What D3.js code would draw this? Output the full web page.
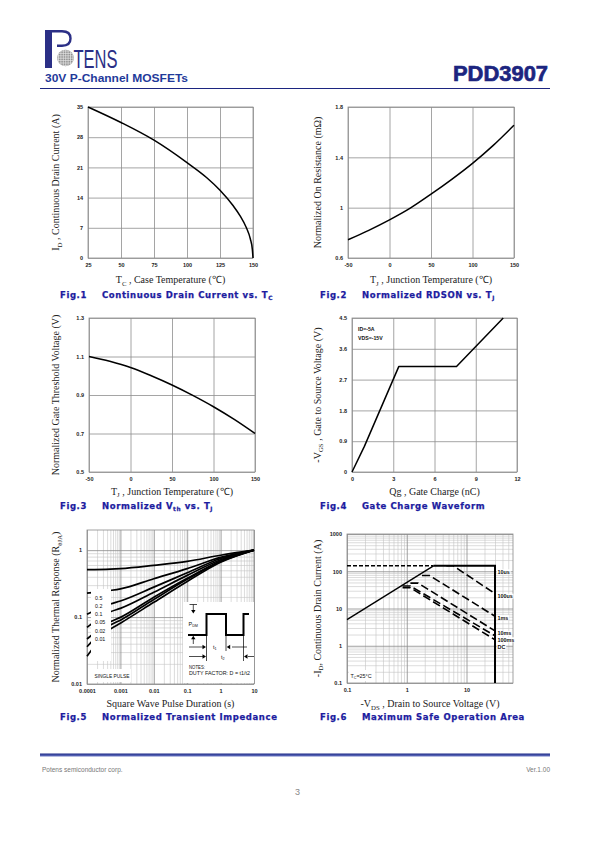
<!DOCTYPE html>
<html><head><meta charset="utf-8">
<script src="https://cdn.jsdelivr.net/npm/d3@7"></script>
<style>body{margin:0;background:#fff}svg{display:block}</style>
</head><body>
<svg id="page" width="595" height="842"></svg>
<script>
// ---------------- DATA ----------------
const fig1Temp    = [25, 50, 75, 100, 115, 125, 135, 140, 145, 148, 149.5, 150];
const fig1Current = [35, 31.4, 27.3, 22.1, 18.6, 15.7, 12.1, 9.9, 7.0, 4.4, 2.0, 0];
const fig1XTicks  = [25, 50, 75, 100, 125, 150];
const fig1YTicks  = [0, 7, 14, 21, 28, 35];

const fig2Temp   = [-50, -25, 0, 25, 50, 75, 100, 125, 150];
const fig2Rds    = [0.745, 0.82, 0.903, 0.996, 1.107, 1.225, 1.352, 1.495, 1.655];
const fig2XTicks = [-50, 0, 50, 100, 150];
const fig2YTicks = [0.6, 1, 1.4, 1.8];

const fig3Temp   = [-50, -25, 0, 25, 50, 75, 100, 125, 150];
const fig3Vth    = [1.1, 1.075, 1.043, 1.0, 0.952, 0.898, 0.839, 0.773, 0.70];
const fig3XTicks = [-50, 0, 50, 100, 150];
const fig3YTicks = [0.5, 0.7, 0.9, 1.1, 1.3];

const fig4Qg     = [0, 0.9, 3.4, 7.6, 11.0];
const fig4Vgs    = [0, 0.75, 3.08, 3.08, 4.5];
const fig4XTicks = [0, 3, 6, 9, 12];
const fig4YTicks = [0, 0.9, 1.8, 2.7, 3.6, 4.5];
const fig4Notes  = ["ID=-5A", "VDS=-15V"];

const fig5Time   = [0.0001, 0.0005, 0.001, 0.01, 0.1, 1, 10];
const fig5Duty   = ["0.5", "0.2", "0.1", "0.05", "0.02", "0.01"];
const fig5D05    = [0.51, 0.52, 0.53, 0.594, 0.68, 0.84, 1];
const fig5D02    = [0.228, 0.25, 0.264, 0.374, 0.53, 0.78, 1];
const fig5D01    = [0.11, 0.157, 0.174, 0.28, 0.46, 0.75, 1];
const fig5D005   = [0.07, 0.12, 0.135, 0.235, 0.42, 0.72, 1];
const fig5D002   = [0.047, 0.085, 0.099, 0.198, 0.38, 0.69, 1];
const fig5D001   = [0.036, 0.076, 0.09, 0.183, 0.366, 0.675, 1];
const fig5Single = [0.026, 0.066, 0.081, 0.166, 0.34, 0.66, 1];
const fig5XTicks = [0.0001, 0.001, 0.01, 0.1, 1, 10];
const fig5XLabels = ["0.0001", "0.001", "0.01", "0.1", "1", "10"];
const fig5YTicks = [0.01, 0.1, 1];
const fig5YLabels = ["0.01", "0.1", "1"];

const fig6RdsV    = [0.1, 2.8];
const fig6RdsI    = [5, 140];
const fig6LimitV  = [2.8, 30, 30];
const fig6LimitI  = [140, 140, 0.1];
const fig6_10usV  = [0.1, 2.8];
const fig6_10usI  = [140, 140];
const fig6_100usV = [4.6, 6.0, 30];
const fig6_100usI = [140, 140, 25];
const fig6_1msV   = [1.8, 2.4, 30];
const fig6_1msI   = [77, 77, 6.2];
const fig6_10msV  = [1.15, 1.55, 30];
const fig6_10msI  = [48, 48, 2.5];
const fig6_100msV = [0.85, 1.15, 30];
const fig6_100msI = [40, 40, 1.85];
const fig6_dcV    = [0.85, 1.15, 30];
const fig6_dcI    = [36, 36, 1.45];
const fig6Labels  = ["10us", "100us", "1ms", "10ms", "100ms", "DC"];
const fig6XTicks  = [0.1, 1, 10];
const fig6XLabels = ["0.1", "1", "10"];
const fig6YTicks  = [0.1, 1, 10, 100, 1000];
const fig6YLabels = ["0.1", "1", "10", "100", "1000"];

// ---------------- HELPERS ----------------
const svg = d3.select("#page");
const SANS = "Liberation Sans, Arial, sans-serif";
const SERIF = "Liberation Serif, Times New Roman, serif";
const FIG_BLUE = "#1c1ca0";
const GRID = "#8e8e8e";

function rich(textSel, parts, size) {
  let shifted = 0;
  parts.forEach(([s, kind]) => {
    const ts = textSel.append("tspan").text(s);
    if (kind === "sub") {
      ts.attr("font-size", size * 0.68).attr("dy", size * 0.25 - shifted);
      shifted = size * 0.25;
    } else if (shifted) {
      ts.attr("dy", -shifted);
      shifted = 0;
    }
  });
  return textSel;
}
function xTitle(p, y, parts) {
  const t = svg.append("text").attr("x", (p.left + p.right) / 2).attr("y", y)
    .attr("text-anchor", "middle").attr("font-family", SERIF).attr("font-size", 10).attr("fill", "#222");
  rich(t, parts, 10);
}
function yTitle(x, p, parts) {
  const t = svg.append("text").attr("transform", `translate(${x},${(p.top + p.bottom) / 2}) rotate(-90)`)
    .attr("text-anchor", "middle").attr("font-family", SERIF).attr("font-size", 10).attr("fill", "#222");
  rich(t, parts, 10);
}
function figTitle(x, y, num, parts) {
  const common = s => s.attr("font-family", "DejaVu Sans, Verdana, sans-serif").attr("font-weight", "bold")
    .attr("font-size", 8.5).attr("fill", FIG_BLUE).attr("stroke", FIG_BLUE).attr("stroke-width", 0.25)
    .attr("letter-spacing", 0.6);
  svg.append("text").attr("x", x).attr("y", y).call(common).text("Fig." + num);
  const t = svg.append("text").attr("x", x + 42).attr("y", y).call(common);
  rich(t, parts, 8.5);
}
function styleTicks(g, color, width) {
  g.select(".domain").remove();
  g.selectAll("line").attr("stroke", color).attr("stroke-width", width);
  g.selectAll("text").attr("font-family", SANS).attr("font-size", 5.5).attr("font-weight", "bold").attr("fill", "#222");
}
function frame(p, color) {
  svg.append("rect").attr("x", p.left).attr("y", p.top).attr("width", p.right - p.left)
    .attr("height", p.bottom - p.top).attr("fill", "none").attr("stroke", color || GRID).attr("stroke-width", 0.8);
}
function linearPlot(p, xDom, yDom, xTicks, yTicks, xs, ys, curve) {
  const x = d3.scaleLinear().domain(xDom).range([p.left, p.right]);
  const y = d3.scaleLinear().domain(yDom).range([p.bottom, p.top]);
  svg.append("g").attr("transform", `translate(0,${p.bottom})`)
    .call(d3.axisBottom(x).tickValues(xTicks).tickSize(-(p.bottom - p.top)).tickPadding(5).tickFormat(d => String(d)))
    .call(g => styleTicks(g, GRID, 0.8));
  svg.append("g").attr("transform", `translate(${p.left},0)`)
    .call(d3.axisLeft(y).tickValues(yTicks).tickSize(-(p.right - p.left)).tickPadding(5).tickFormat(d => String(d)))
    .call(g => styleTicks(g, GRID, 0.8));
  frame(p);
  svg.append("path").datum(xs.map((v, i) => [v, ys[i]]))
    .attr("fill", "none").attr("stroke", "#000").attr("stroke-width", 1.5).attr("stroke-linejoin", "round")
    .attr("d", d3.line().x(d => x(d[0])).y(d => y(d[1])).curve(curve || d3.curveMonotoneX));
  return { x, y };
}
function minorsOf(dom) {
  const out = [];
  const lo = Math.floor(Math.log10(dom[0])), hi = Math.ceil(Math.log10(dom[1]));
  for (let e = lo; e < hi; e++) for (let k = 2; k <= 9; k++) {
    const v = k * Math.pow(10, e);
    if (v > dom[0] * 1.0001 && v < dom[1] * 0.9999) out.push(v);
  }
  return out;
}
function logPlot(p, xDom, yDom, xTicks, xLabels, yTicks, yLabels) {
  const x = d3.scaleLog().domain(xDom).range([p.left, p.right]);
  const y = d3.scaleLog().domain(yDom).range([p.bottom, p.top]);
  svg.append("g").attr("transform", `translate(0,${p.bottom})`)
    .call(d3.axisBottom(x).tickValues(minorsOf(xDom)).tickSize(-(p.bottom - p.top)).tickFormat(""))
    .call(g => styleTicks(g, "#c4c4c4", 0.6));
  svg.append("g").attr("transform", `translate(${p.left},0)`)
    .call(d3.axisLeft(y).tickValues(minorsOf(yDom)).tickSize(-(p.right - p.left)).tickFormat(""))
    .call(g => styleTicks(g, "#c4c4c4", 0.6));
  svg.append("g").attr("transform", `translate(0,${p.bottom})`)
    .call(d3.axisBottom(x).tickValues(xTicks).tickSize(-(p.bottom - p.top)).tickPadding(5)
      .tickFormat((d, i) => xLabels[i]))
    .call(g => styleTicks(g, "#8a8a8a", 0.8));
  svg.append("g").attr("transform", `translate(${p.left},0)`)
    .call(d3.axisLeft(y).tickValues(yTicks).tickSize(-(p.right - p.left)).tickPadding(5)
      .tickFormat((d, i) => yLabels[i]))
    .call(g => styleTicks(g, "#8a8a8a", 0.8));
  frame(p, "#8a8a8a");
  return { x, y };
}

// ---------------- HEADER ----------------
const NAVY = "#2b2f86";
svg.append("rect").attr("x", 45).attr("y", 30).attr("width", 7).attr("height", 38).attr("fill", NAVY);
svg.append("path").attr("d", "M52,31.3 H62 Q70.5,31.3 70.5,38.5 Q70.5,45.7 62,45.7 H57")
  .attr("fill", "none").attr("stroke", NAVY).attr("stroke-width", 2.4);
const globe = svg.append("g");
globe.append("clipPath").attr("id", "gclip").append("circle").attr("cx", 65.5).attr("cy", 58).attr("r", 8.3);
globe.append("circle").attr("cx", 65.5).attr("cy", 58).attr("r", 8.3).attr("fill", "#8f8f8f");
const gl = globe.append("g").attr("clip-path", "url(#gclip)").attr("stroke", "#e8e8e8").attr("stroke-width", 0.7);
d3.range(-7, 8, 2.4).forEach(o => {
  gl.append("line").attr("x1", 65.5 + o).attr("x2", 65.5 + o).attr("y1", 48).attr("y2", 68);
  gl.append("line").attr("y1", 58 + o).attr("y2", 58 + o).attr("x1", 56).attr("x2", 76);
});
svg.append("text").attr("x", 73.5).attr("y", 67.5).attr("font-family", "Liberation Sans Narrow, Liberation Sans, sans-serif")
  .attr("font-size", 25).attr("fill", NAVY).attr("textLength", 44).attr("lengthAdjust", "spacingAndGlyphs").text("TENS");
svg.append("text").attr("x", 45).attr("y", 82).attr("font-family", SANS).attr("font-weight", "bold")
  .attr("font-size", 10.5).attr("fill", "#1f3a9a").attr("textLength", 143).attr("lengthAdjust", "spacingAndGlyphs")
  .text("30V P-Channel MOSFETs");
svg.append("text").attr("x", 453).attr("y", 81).attr("font-family", SANS).attr("font-weight", "bold")
  .attr("font-size", 22).attr("fill", "#1c2580").attr("stroke", "#1c2580").attr("stroke-width", 0.7)
  .attr("textLength", 95).attr("lengthAdjust", "spacingAndGlyphs").text("PDD3907");
svg.append("line").attr("x1", 40).attr("x2", 550).attr("y1", 88.5).attr("y2", 88.5).attr("stroke", "#1c2580").attr("stroke-width", 1.1);

// ---------------- FIG 1 ----------------
const P1 = { left: 88, right: 253, top: 107, bottom: 258 };
linearPlot(P1, [25, 150], [0, 35], fig1XTicks, fig1YTicks, fig1Temp, fig1Current);
xTitle(P1, 283, [["T", ""], ["C", "sub"], [" , Case Temperature (\u2103)", ""]]);
yTitle(59, P1, [["I", ""], ["D", "sub"], [" , Continuous Drain Current (A)", ""]]);
figTitle(60, 297.5, 1, [["Continuous Drain Current vs. T", ""], ["C", "sub"]]);

// ---------------- FIG 2 ----------------
const P2 = { left: 348, right: 514, top: 107, bottom: 258 };
linearPlot(P2, [-50, 150], [0.6, 1.8], fig2XTicks, fig2YTicks, fig2Temp, fig2Rds);
xTitle(P2, 283, [["T", ""], ["J", "sub"], [" , Junction Temperature (\u2103)", ""]]);
yTitle(320.5, P2, [["Normalized On Resistance (m\u03A9)", ""]]);
figTitle(320, 297.5, 2, [["Normalized RDSON vs. T", ""], ["J", "sub"]]);

// ---------------- FIG 3 ----------------
const P3 = { left: 89, right: 255, top: 318, bottom: 472 };
linearPlot(P3, [-50, 150], [0.5, 1.3], fig3XTicks, fig3YTicks, fig3Temp, fig3Vth);
xTitle(P3, 494.5, [["T", ""], ["J", "sub"], [" , Junction Temperature (\u2103)", ""]]);
yTitle(59, P3, [["Normalized Gate Threshold Voltage (V)", ""]]);
figTitle(60, 509, 3, [["Normalized V", ""], ["th", "sub"], [" vs. T", ""], ["J", "sub"]]);

// ---------------- FIG 4 ----------------
const P4 = { left: 352, right: 517, top: 318, bottom: 472 };
linearPlot(P4, [0, 12], [0, 4.5], fig4XTicks, fig4YTicks, fig4Qg, fig4Vgs, d3.curveLinear);
fig4Notes.forEach((s, i) => svg.append("text").attr("x", 358).attr("y", 331 + i * 8.5)
  .attr("font-family", SANS).attr("font-weight", "bold").attr("font-size", 5.2).attr("fill", "#111").text(s));
xTitle(P4, 495, [["Qg , Gate Charge (nC)", ""]]);
yTitle(320.5, P4, [["-V", ""], ["GS", "sub"], [" , Gate to Source Voltage (V)", ""]]);
figTitle(320, 509, 4, [["Gate Charge Waveform", ""]]);

// ---------------- FIG 5 ----------------
const P5 = { left: 87, right: 254, top: 530, bottom: 684 };
const s5 = logPlot(P5, [0.0001, 10], [0.01, 2], fig5XTicks, fig5XLabels, fig5YTicks, fig5YLabels);
const fig5Series = [fig5D05, fig5D02, fig5D01, fig5D005, fig5D002, fig5D001, fig5Single];
const line5 = d3.line().x(d => s5.x(d[0])).y(d => s5.y(d[1])).curve(d3.curveMonotoneX);
fig5Series.forEach(ser => svg.append("path").datum(fig5Time.map((t, i) => [t, ser[i]]))
  .attr("fill", "none").attr("stroke", "#000").attr("stroke-width", 1.7).attr("d", line5));
// duty-factor label box
svg.append("rect").attr("x", 91).attr("y", 589).attr("width", 20).attr("height", 72).attr("fill", "#fff");
fig5Duty.forEach((s, i) => svg.append("text").attr("x", 95).attr("y", 600 + i * 8.15)
  .attr("font-family", SANS).attr("font-size", 5.3).attr("fill", "#111").text(s));
svg.append("rect").attr("x", 89).attr("y", 669).attr("width", 42).attr("height", 13).attr("fill", "#fff");
svg.append("text").attr("x", 94.5).attr("y", 678.3).attr("font-family", SANS).attr("font-size", 5.3)
  .attr("fill", "#111").attr("textLength", 35).attr("lengthAdjust", "spacingAndGlyphs").text("SINGLE PULSE");
// inset: pulse diagram
const inset = svg.append("g");
inset.append("rect").attr("x", 183).attr("y", 602).attr("width", 71).attr("height", 81).attr("fill", "#fff");
inset.append("path").attr("d", "M188,635 H206.5 V614 H226 V635 H243.5 V614 H249")
  .attr("fill", "none").attr("stroke", "#000").attr("stroke-width", 2);
const thin = { stroke: "#000", "stroke-width": 0.7 };
function ln(x1, y1, x2, y2) { const l = inset.append("line").attr("x1", x1).attr("y1", y1).attr("x2", x2).attr("y2", y2); Object.entries(thin).forEach(([k, v]) => l.attr(k, v)); }
function head(x, y, dir) {
  const s = 2.2;
  let pts;
  if (dir === "down") pts = [[x, y], [x - s, y - 3.5], [x + s, y - 3.5]];
  if (dir === "up") pts = [[x, y], [x - s, y + 3.5], [x + s, y + 3.5]];
  if (dir === "right") pts = [[x, y], [x - 3.5, y - s], [x - 3.5, y + s]];
  if (dir === "left") pts = [[x, y], [x + 3.5, y - s], [x + 3.5, y + s]];
  inset.append("polygon").attr("points", pts.map(p => p.join(",")).join(" ")).attr("fill", "#000");
}
ln(189.5, 604.5, 197, 604.5); ln(193.3, 604.5, 193.3, 610); head(193.3, 613.5, "down");
ln(193.3, 639, 193.3, 644); head(193.3, 635.8, "up");
ln(206.5, 636, 206.5, 661); ln(226, 636, 226, 651); ln(243.5, 636, 243.5, 661);
ln(189, 647, 203, 647); head(206, 647, "right");
ln(232, 647, 247, 647); head(226.7, 647, "left");
ln(189, 656.5, 203, 656.5); head(206, 656.5, "right");
ln(248, 656.5, 254, 656.5); head(244, 656.5, "left");
inset.append("text").attr("x", 188.5).attr("y", 626).attr("font-family", SANS).attr("font-size", 5.5).attr("fill", "#111")
  .call(t => rich(t, [["P", ""], ["DM", "sub"]], 5.5));
inset.append("text").attr("x", 213).attr("y", 649).attr("font-family", SANS).attr("font-size", 5.5).attr("fill", "#111")
  .call(t => rich(t, [["t", ""], ["1", "sub"]], 5.5));
inset.append("text").attr("x", 221).attr("y", 659).attr("font-family", SANS).attr("font-size", 5.5).attr("fill", "#111")
  .call(t => rich(t, [["t", ""], ["2", "sub"]], 5.5));
inset.append("text").attr("x", 189).attr("y", 668.5).attr("font-family", SANS).attr("font-size", 5).attr("fill", "#111")
  .attr("textLength", 16).attr("lengthAdjust", "spacingAndGlyphs").text("NOTES:");
inset.append("text").attr("x", 189).attr("y", 674.5).attr("font-family", SANS).attr("font-size", 5).attr("fill", "#111")
  .attr("textLength", 61).attr("lengthAdjust", "spacingAndGlyphs").text("DUTY FACTOR: D = t1/t2");
xTitle(P5, 707, [["Square Wave Pulse Duration (s)", ""]]);
yTitle(59, P5, [["Normalized Thermal Response (R", ""], ["\u03B8JA", "sub"], [")", ""]]);
figTitle(60, 720, 5, [["Normalized Transient Impedance", ""]]);

// ---------------- FIG 6 ----------------
const P6 = { left: 347, right: 513, top: 534, bottom: 683 };
const s6 = logPlot(P6, [0.1, 60], [0.1, 1000], fig6XTicks, fig6XLabels, fig6YTicks, fig6YLabels);
const line6 = d3.line().x(d => s6.x(d[0])).y(d => s6.y(d[1]));
const zip = (a, b) => a.map((v, i) => [v, b[i]]);
const dashedSeries = [zip(fig6_100usV, fig6_100usI), zip(fig6_1msV, fig6_1msI), zip(fig6_10msV, fig6_10msI),
                      zip(fig6_100msV, fig6_100msI), zip(fig6_dcV, fig6_dcI)];
dashedSeries.forEach(d => svg.append("path").datum(d).attr("fill", "none").attr("stroke", "#000")
  .attr("stroke-width", 1.6).attr("stroke-dasharray", "8,3.5").attr("d", line6));
svg.append("path").datum(zip(fig6_10usV, fig6_10usI)).attr("fill", "none").attr("stroke", "#000")
  .attr("stroke-width", 1.6).attr("stroke-dasharray", "4,2").attr("d", line6);
svg.append("path").datum(zip(fig6RdsV, fig6RdsI)).attr("fill", "none").attr("stroke", "#000")
  .attr("stroke-width", 1.4).attr("d", line6);
svg.append("path").datum(zip(fig6LimitV, fig6LimitI)).attr("fill", "none").attr("stroke", "#000")
  .attr("stroke-width", 2).attr("d", line6);
const labelEnds = [140, 25, 6.2, 2.5, 1.85, 1.45];
const labelNudge = [8, 4.5, 3.5, 4.5, 6, 9.5];
fig6Labels.forEach((s, i) => {
  const yy = s6.y(labelEnds[i]) + labelNudge[i];
  const t = svg.append("text").attr("x", 497.5).attr("y", yy).attr("font-family", SANS).attr("font-weight", "bold")
    .attr("font-size", 5.4).attr("fill", "#111").text(s);
  const bb = t.node().getBBox();
  svg.insert("rect", () => t.node()).attr("x", bb.x - 0.8).attr("y", bb.y + 0.5).attr("width", bb.width + 1.6)
    .attr("height", bb.height - 1).attr("fill", "#fff");
});
svg.append("rect").attr("x", 349).attr("y", 670).attr("width", 26).attr("height", 11).attr("fill", "#fff");
svg.append("text").attr("x", 350.5).attr("y", 678).attr("font-family", SANS).attr("font-size", 5.4).attr("fill", "#111")
  .call(t => rich(t, [["T", ""], ["C", "sub"], ["=25\u00B0C", ""]], 5.4));
xTitle(P6, 707, [["-V", ""], ["DS", "sub"], [" , Drain to Source Voltage (V)", ""]]);
yTitle(320.5, P6, [["-I", ""], ["D", "sub"], [", Continuous Drain Current (A)", ""]]);
figTitle(320, 720, 6, [["Maximum Safe Operation Area", ""]]);

// ---------------- FOOTER ----------------
const grad = svg.append("defs").append("linearGradient").attr("id", "fg").attr("x1", 0).attr("y1", 0).attr("x2", 0).attr("y2", 1);
grad.append("stop").attr("offset", 0).attr("stop-color", "#1c2a88");
grad.append("stop").attr("offset", 1).attr("stop-color", "#6b78c4");
svg.append("rect").attr("x", 40).attr("y", 753.5).attr("width", 510).attr("height", 3).attr("fill", "url(#fg)");
svg.append("text").attr("x", 42).attr("y", 772).attr("font-family", SANS).attr("font-size", 6.5).attr("fill", "#777")
  .text("Potens semiconductor corp.");
svg.append("text").attr("x", 550).attr("y", 772).attr("text-anchor", "end").attr("font-family", SANS).attr("font-size", 6.5)
  .attr("fill", "#777").text("Ver.1.00");
svg.append("text").attr("x", 297.5).attr("y", 795).attr("text-anchor", "middle").attr("font-family", SANS).attr("font-size", 9)
  .attr("fill", "#888").text("3");
</script>
</body></html>
